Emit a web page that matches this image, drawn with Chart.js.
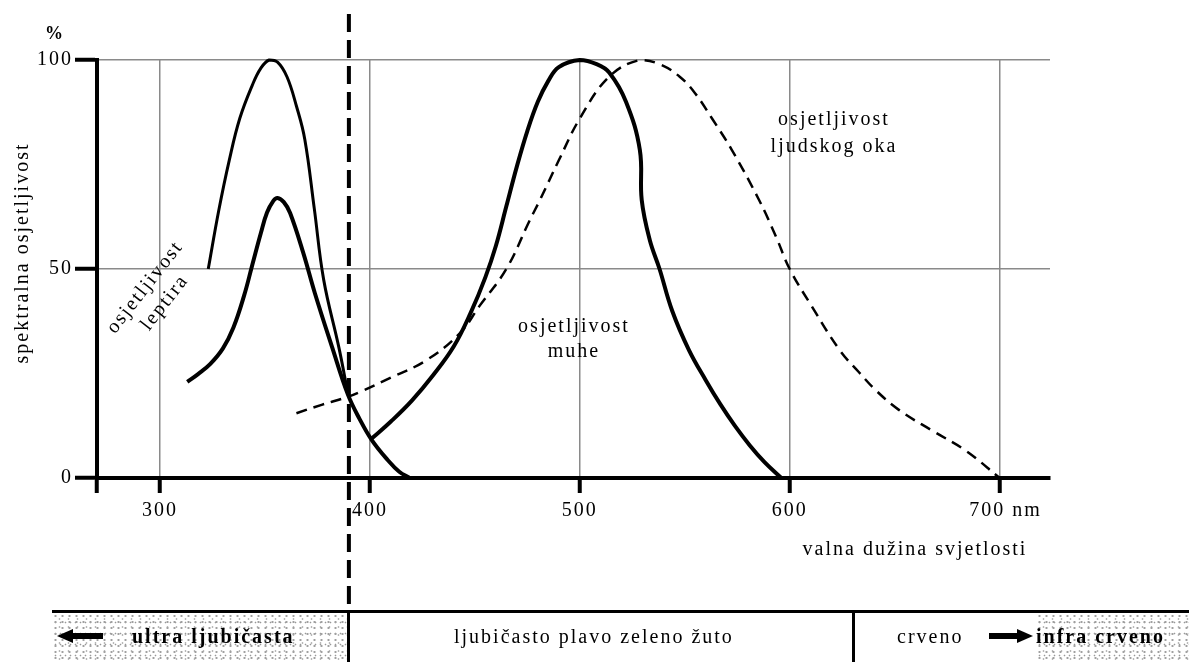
<!DOCTYPE html>
<html>
<head>
<meta charset="utf-8">
<script src="https://cdn.jsdelivr.net/npm/chart.js@4/dist/chart.umd.min.js"></script>
<style>
  html, body { margin: 0; padding: 0; background: #fff; }
  #wrap { position: relative; width: 1189px; height: 662px; overflow: hidden; font-family: "Liberation Serif", serif; }
  #chart { position: absolute; left: 0; top: 0; }
  .band-line { position: absolute; left: 52px; top: 610px; width: 1137px; height: 3px; background: #000; }
  .divider { position: absolute; top: 610px; width: 3px; height: 52px; background: #000; }
  .stipple {
    position: absolute; top: 613px; height: 49px;
    background-color: #fff;
    background-image:
      radial-gradient(circle, #a0a0a0 0.9px, transparent 1.3px),
      radial-gradient(circle, #b8b8b8 0.8px, transparent 1.2px),
      radial-gradient(circle, #999 0.7px, transparent 1.1px);
    background-size: 7px 6px, 9px 8px, 5px 11px;
    background-position: 0 0, 3px 2px, 1px 4px;
  }
  .band-text { position: absolute; top: 624px; font-size: 20px; letter-spacing: 2px; line-height: 24px; white-space: nowrap; color: #000; }
  .bold { font-weight: bold; }
  .arrow { position: absolute; top: 636px; height: 0; }
  .arrow .shaft { position: absolute; top: -3px; height: 6px; background: #000; }
  .arrow .head { position: absolute; top: -7px; width: 0; height: 0; border-top: 7px solid transparent; border-bottom: 7px solid transparent; }
</style>
</head>
<body>
<div id="wrap">
  <canvas id="chart" width="1189" height="662"></canvas>

  <div class="stipple" style="left:52px; width:296px;"></div>
  <div class="stipple" style="left:1036px; width:153px;"></div>
  <div class="band-line"></div>
  <div class="divider" style="left:347px;"></div>
  <div class="divider" style="left:852px;"></div>

  <div class="arrow" style="left:57px;">
    <div class="head" style="left:0; border-right:16px solid #000;"></div>
    <div class="shaft" style="left:14px; width:32px;"></div>
  </div>
  <div class="band-text bold" style="left:132px;">ultra ljubičasta</div>
  <div class="band-text" style="left:454px;">ljubičasto plavo zeleno žuto</div>
  <div class="band-text" style="left:897px;">crveno</div>
  <div class="arrow" style="left:989px;">
    <div class="shaft" style="left:0; width:30px;"></div>
    <div class="head" style="left:28px; border-left:16px solid #000;"></div>
  </div>
  <div class="band-text bold" style="left:1036px;">infra crveno</div>
</div>

<script>
// valne duljine (nm) i osjetljivost (%) ocitane sa slike

// leptir - gornja krivulja (vrh 100 %)
const leptirGornjaNm  = [323, 328, 333, 338, 344, 348, 352, 356, 360.5, 365, 369, 373.5, 378, 385.2, 389.5];
const leptirGornjaVal = [50, 64, 76, 86, 94, 98, 100, 99.5, 96, 89, 81, 64.5, 47.4, 31.3, 20.3];

// leptir - donja krivulja (vrh ~67 %)
const leptirDonjaNm  = [313, 318, 324, 330, 335, 340, 344, 348, 351, 354, 356, 359, 362, 368.3, 373.8, 382, 389.5, 395, 401, 408.5, 414, 419];
const leptirDonjaVal = [23, 24.8, 27.3, 31, 36, 43.5, 51, 58.5, 63.5, 66.3, 67, 66, 63.4, 53.8, 44.2, 31.3, 20, 14.2, 9, 4.3, 1.5, 0];

// muha
const muhaNm  = [401, 410, 420, 430, 440, 448, 455, 460, 465, 470, 475, 480, 485, 490, 500, 508, 514, 522, 528.6, 529.5, 533.3, 538, 544, 552, 560, 567, 574, 581, 588, 596];
const muhaVal = [9.5, 13.5, 18.5, 24.5, 31.5, 39.5, 48, 55.5, 65, 74.5, 83, 90, 95, 98.3, 100, 99, 97, 90, 78.5, 66.5, 57, 50, 40, 30.6, 23.4, 17.6, 12.4, 7.8, 3.8, 0];

// ljudsko oko
const okoNm  = [365, 377, 389.5, 395, 410, 427, 443, 452, 465, 476, 481, 490, 500, 514, 528.5, 538, 547.6, 555, 563, 572.4, 585.4, 593.5, 600, 610.6, 623.8, 633, 641, 652, 668, 684, 700];
const okoVal = [15.5, 17.5, 19.4, 20.5, 24, 28.2, 34.7, 41, 50, 61.5, 66.5, 76, 86, 96, 100, 99, 96, 92, 86, 78.5, 66.5, 57.7, 50, 41, 30.6, 25.3, 21, 16.3, 11.3, 6.5, 0];

// osi
const xTickovi = [300, 400, 500, 600, 700];
const yTickovi = [0, 50, 100];
const granicaUV = 390;

const toPoints = (xs, ys) => xs.map((x, i) => ({ x: x, y: ys[i] }));

const SERIF = '"Liberation Serif", "Times New Roman", serif';

const labelsPlugin = {
  id: 'labels',
  beforeDraw(chart) {
    chart.ctx.letterSpacing = '2px';
  },
  afterDatasetsDraw(chart) {
    const ctx = chart.ctx;
    const xs = chart.scales.x;
    ctx.save();
    // granica UV / vidljivo
    const gx = xs.getPixelForValue(granicaUV);
    ctx.strokeStyle = '#000';
    ctx.lineWidth = 4;
    ctx.setLineDash([18, 8]);
    ctx.beginPath();
    ctx.moveTo(gx, 14);
    ctx.lineTo(gx, 606);
    ctx.stroke();
    ctx.setLineDash([]);

    ctx.fillStyle = '#000';
    ctx.textAlign = 'center';
    ctx.textBaseline = 'middle';
    ctx.font = '20px ' + SERIF;

    ctx.fillText('osjetljivost', 834, 120);
    ctx.fillText('ljudskog oka', 834, 147);

    ctx.fillText('osjetljivost', 574, 327);
    ctx.fillText('muhe', 574, 352);

    ctx.fillText('valna dužina svjetlosti', 915, 550);

    ctx.save();
    ctx.translate(155, 295);
    ctx.rotate(-52 * Math.PI / 180);
    ctx.fillText('osjetljivost', 0, -12.5);
    ctx.fillText('leptira', 0, 12.5);
    ctx.restore();

    ctx.save();
    ctx.translate(23, 253);
    ctx.rotate(-Math.PI / 2);
    ctx.fillText('spektralna osjetljivost', 0, 0);
    ctx.restore();

    ctx.font = 'bold 18px ' + SERIF;
    ctx.letterSpacing = '0px';
    ctx.fillText('%', 54, 34);
    ctx.restore();
  }
};

const lineStyle = (width, dash) => ({
  borderColor: '#000',
  borderWidth: width,
  borderDash: dash || [],
  pointRadius: 0,
  fill: false,
  tension: 0.4,
  clip: false
});

new Chart(document.getElementById('chart'), {
  type: 'line',
  data: {
    datasets: [
      Object.assign({ label: 'leptir gornja', data: toPoints(leptirGornjaNm, leptirGornjaVal) }, lineStyle(3)),
      Object.assign({ label: 'leptir donja', data: toPoints(leptirDonjaNm, leptirDonjaVal) }, lineStyle(4)),
      Object.assign({ label: 'muha', data: toPoints(muhaNm, muhaVal) }, lineStyle(4)),
      Object.assign({ label: 'ljudsko oko', data: toPoints(okoNm, okoVal) }, lineStyle(2.5, [11, 7]))
    ]
  },
  options: {
    responsive: false,
    animation: false,
    devicePixelRatio: 1,
    layout: { padding: { top: 60, right: 139, left: 0, bottom: 0 } },
    plugins: { legend: { display: false }, tooltip: { enabled: false } },
    scales: {
      x: {
        type: 'linear',
        min: 270,
        max: 724,
        afterFit(scale) { scale.height = 184; },
        afterBuildTicks(scale) {
          scale.ticks = [270].concat(xTickovi).map(v => ({ value: v }));
        },
        border: { display: true, color: '#000', width: 4 },
        grid: {
          color: ctx => (ctx.tick && xTickovi.includes(ctx.tick.value)) ? '#8a8a8a' : 'rgba(0,0,0,0)',
          lineWidth: 1.5,
          tickLength: 15,
          tickColor: '#000',
          tickWidth: 4
        },
        ticks: {
          color: '#000',
          padding: 6,
          maxRotation: 0,
          autoSkip: false,
          font: { family: SERIF, size: 20 },
          // "700 nm" u originalu stoji malo desno od crtice
          callback: v => v === 700 ? '\u2002700 nm' : (xTickovi.includes(v) ? String(v) : '')
        }
      },
      y: {
        min: 0,
        max: 100,
        afterFit(scale) { scale.width = 97; },
        afterBuildTicks(scale) {
          scale.ticks = yTickovi.map(v => ({ value: v }));
        },
        border: { display: true, color: '#000', width: 4 },
        grid: {
          color: '#8a8a8a',
          lineWidth: 1.5,
          tickLength: 22,
          tickColor: '#000',
          tickWidth: 4
        },
        ticks: {
          color: '#000',
          padding: 2,
          font: { family: SERIF, size: 20 }
        }
      }
    }
  },
  plugins: [labelsPlugin]
});
</script>
</body>
</html>
